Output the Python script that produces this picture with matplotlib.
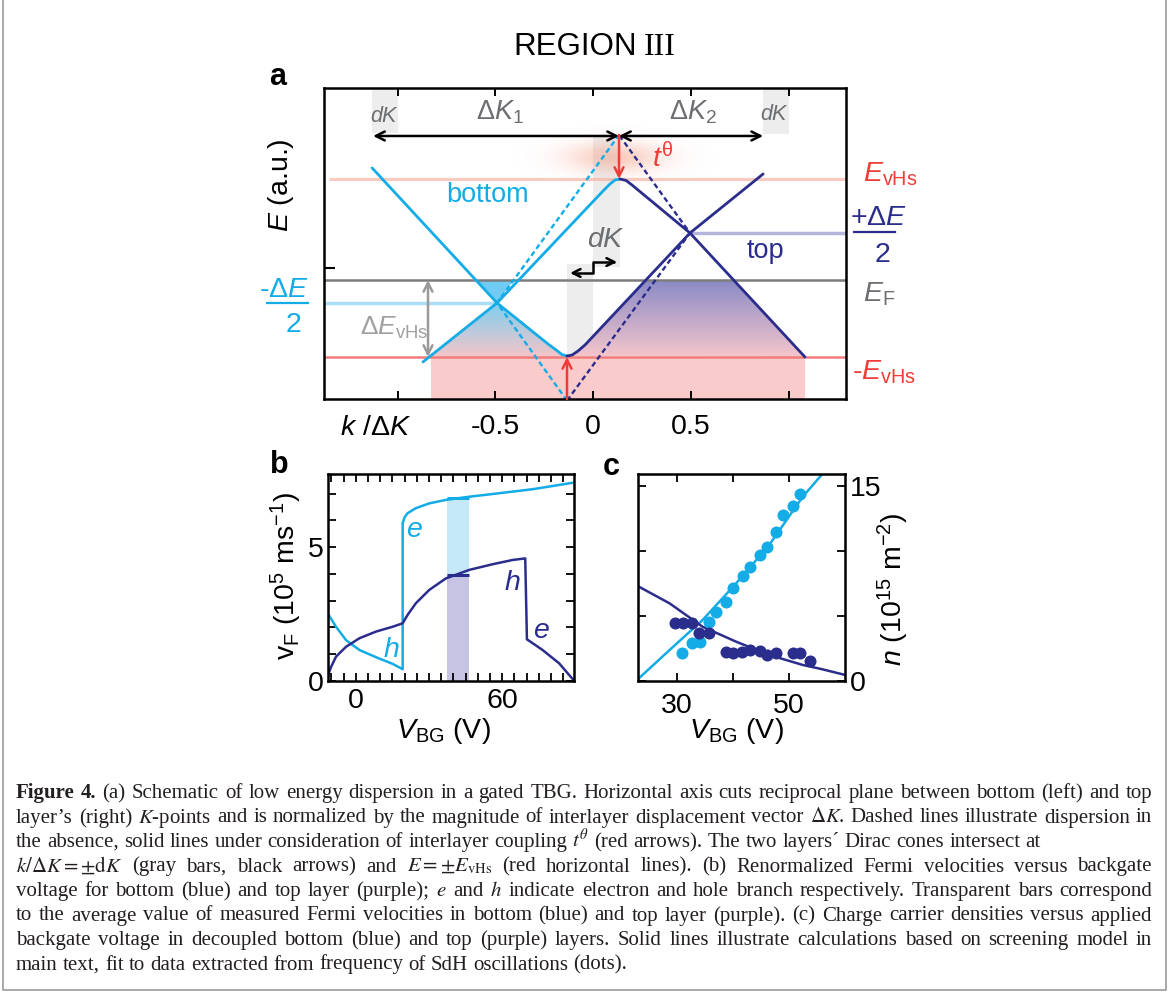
import numpy as np
import matplotlib
matplotlib.use('Agg')
import matplotlib.pyplot as plt
from matplotlib.patches import Polygon, Rectangle, FancyArrowPatch
from matplotlib.path import Path
from matplotlib.colors import to_rgb

plt.rcParams['font.family'] = ['Liberation Sans', 'DejaVu Sans']
plt.rcParams['mathtext.fontset'] = 'custom'
plt.rcParams['mathtext.rm'] = 'Liberation Sans'
plt.rcParams['mathtext.it'] = 'Liberation Sans:italic'
plt.rcParams['mathtext.bf'] = 'Liberation Sans:bold'
plt.rcParams['mathtext.sf'] = 'Liberation Sans'

BLUE = '#13ace6'
NAVY = '#2b2d8c'
RED = '#ee3d38'
GRAY = '#6d6e71'
W, H = 1171, 994

# ---------------- panel a : schematic (k in units of dK, E in units of E_vHs)
E_VHS = 1.0
E_F = -0.135
DE2 = 0.393
K_DIRAC_BOT, K_DIRAC_TOP = -0.491, 0.496

# bottom layer, upper-left branch down to the lower anticrossing
k_bot1 = [-1.130, -0.491, -0.230, -0.189, -0.159, -0.133]
E_bot1 = [1.124, -0.393, -0.854, -0.921, -0.972, -0.989]
# top layer, from the lower anticrossing to the upper-right end
k_top1 = [-0.133, -0.107, -0.077, -0.041, 0.496, 0.870]
E_top1 = [-0.989, -0.978, -0.933, -0.865, 0.393, 1.056]
# bottom layer, lower-left branch up to the upper anticrossing
k_bot2 = [-0.870, -0.491, 0.056, 0.087, 0.113, 0.138]
E_bot2 = [-1.056, -0.393, 0.876, 0.944, 0.989, 1.000]
# top layer, from the upper anticrossing down to the lower-right end
k_top2 = [0.138, 0.169, 0.199, 0.496, 1.084]
E_top2 = [1.000, 0.983, 0.933, 0.393, -1.000]
# uncoupled cones (dashed)
k_bot_dash = [-0.133, -0.491, 0.133]
E_bot_dash = [-1.49, -0.393, 1.494]
k_top_dash = [-0.133, 0.496, 0.133]
E_top_dash = [-1.49, 0.393, 1.494]

# ---------------- panel b : Fermi velocities
V_bot = [-11.5, -8.1, -4.0, 1.5, 8.3, 15.1, 19.2, 19.2, 20.0, 21.2, 24.6, 30.1,
         36.9, 46.5, 56.0, 64.2, 72.4, 80.6, 89.4]
vF_bot = [2.52, 2.02, 1.52, 1.15, 0.88, 0.63, 0.43, 5.90, 6.12, 6.27, 6.46, 6.64,
          6.77, 6.89, 6.99, 7.08, 7.17, 7.29, 7.42]
V_top = [-11.5, -11.2, -10.1, -8.1, -4.0, 1.5, 8.3, 15.1, 19.2, 21.2, 24.6, 30.1,
         36.9, 46.5, 56.0, 64.2, 69.4, 70.1, 76.5, 83.3, 89.4]
vF_top = [0.0, 0.25, 0.52, 0.90, 1.27, 1.59, 1.84, 2.02, 2.15, 2.46, 2.90, 3.40,
          3.83, 4.15, 4.36, 4.52, 4.58, 1.55, 1.15, 0.65, 0.0]
bar_V = (37.2, 46.5)
bar_bot_vF = 6.83
bar_top_vF = 3.96

# ---------------- panel c : carrier densities
Vd_bot = [30.9, 32.7, 34.2, 35.7, 37.0, 38.8, 40.0, 41.8, 43.0, 44.8, 46.1, 47.7, 49.0, 50.7, 52.0]
n_bot = [2.10, 2.92, 3.00, 4.54, 5.30, 6.08, 7.10, 8.05, 8.72, 9.67, 10.26, 11.46, 12.75, 13.44, 14.40]
Vd_top = [29.7, 31.1, 32.7, 33.9, 35.7, 38.7, 40.0, 41.7, 43.1, 44.8, 46.1, 47.7, 50.7, 52.0, 53.8]
n_top = [4.46, 4.41, 4.41, 3.64, 3.69, 2.23, 2.15, 2.23, 2.36, 2.31, 1.98, 2.10, 2.15, 2.15, 1.54]
Vfit = [23.0, 28.7, 34.6, 40.6, 46.5, 52.5, 55.8, 60.1]
nfit_bot = [0.10, 2.36, 4.67, 7.49, 10.44, 14.15, 15.8, np.nan]
nfit_top = [7.28, 5.95, 4.15, 3.00, 1.98, 1.21, 0.90, 0.44]

cap_head = 'Figure 4.'
caption = [
    "(a) Schematic of low energy dispersion in a gated TBG. Horizontal axis cuts reciprocal plane between bottom (left) and top",
    "layer\u2019s (right) $K$-points and is normalized by the magnitude of interlayer displacement vector $\\Delta K$. Dashed lines illustrate dispersion in",
    "the absence, solid lines under consideration of interlayer coupling $t^{\\theta}$ (red arrows). The two layers\u00b4 Dirac cones intersect at",
    "$k/\\Delta K = \\pm\\mathrm{d}K$ (gray bars, black arrows) and $E = \\pm E_{\\mathrm{vHs}}$ (red horizontal lines). (b) Renormalized Fermi velocities versus backgate",
    "voltage for bottom (blue) and top layer (purple); $e$ and $h$ indicate electron and hole branch respectively. Transparent bars correspond",
    "to the average value of measured Fermi velocities in bottom (blue) and top layer (purple). (c) Charge carrier densities versus applied",
    "backgate voltage in decoupled bottom (blue) and top (purple) layers. Solid lines illustrate calculations based on screening model in",
    "main text, fit to data extracted from frequency of SdH oscillations (dots).",
]
justified = [True, True, False, True, True, True, True, False]


def fx(x):
    return x / W


def fy(y):
    return 1 - y / H


def k_at(ks, Es, e):
    ks, Es = np.asarray(ks), np.asarray(Es)
    o = np.argsort(Es)
    return np.interp(e, Es[o], ks[o])


def gradient(ax, verts, c_top, c_bot, e_top, e_bot, z=1.2):
    poly = Polygon(verts, closed=True, fc='none', ec='none')
    ax.add_patch(poly)
    t = np.linspace(0, 1, 120)[:, None]
    rgb = (1 - t) * np.array(to_rgb(c_top)) + t * np.array(to_rgb(c_bot))
    ks = [v[0] for v in verts]
    im = ax.imshow(rgb[:, None, :], extent=[min(ks), max(ks), e_bot, e_top],
                   origin='upper', aspect='auto', interpolation='bilinear', zorder=z)
    im.set_clip_path(poly)


def words(s):
    # split on spaces that are not inside $...$
    out, cur, math = [], '', False
    for ch in s:
        if ch == '$':
            math = not math
        if ch == ' ' and not math:
            if cur:
                out.append(cur)
            cur = ''
        else:
            cur += ch
    if cur:
        out.append(cur)
    return out


fig = plt.figure(figsize=(W / 100, H / 100), dpi=100)

# ================= panel a
ax = fig.add_axes([fx(324), fy(399), fx(522), 311 / H])
kmin, kmax, Emin, Emax = -1.376, 1.294, -1.472, 2.022

# gray bars
for (k0, k1, e0, e1) in [(-1.13, -1.0, 1.517, Emax), (0.870, 1.0, 1.50, Emax),
                         (0.0, 0.138, 0.01, 1.494), (-0.133, 0.0, Emin, 0.05)]:
    ax.add_patch(Rectangle((k0, e0), k1 - k0, e1 - e0, fc='#ededed', ec='none', zorder=0.5))

# red glow around t^theta
kk = np.linspace(-0.45, 0.7, 220)
ee = np.linspace(0.75, 1.75, 160)
KK, EE = np.meshgrid(kk, ee)
rgba = np.zeros(KK.shape + (4,))
rgba[..., :3] = to_rgb('#f59a80')
rgba[..., 3] = 0.5 * np.exp(-0.5 * ((KK - 0.11) / 0.17) ** 2 - 0.5 * ((EE - 1.236) / 0.12) ** 2)
ax.imshow(rgba, extent=[kk[0], kk[-1], ee[0], ee[-1]], origin='lower', aspect='auto', zorder=0.8)

# pink region below -E_vHs
ax.add_patch(Rectangle((-0.829, Emin), 1.084 + 0.829, -E_VHS - Emin, fc='#f9cbcb', ec='none', zorder=0.6))

# filled states
kL = k_at(k_bot2[:2], E_bot2[:2], -E_VHS)
verts = [(K_DIRAC_BOT, -DE2), (kL, -E_VHS), (-0.133, -E_VHS)]
verts += [(k, e) for k, e in zip(k_bot1[::-1], E_bot1[::-1]) if -E_VHS < e < -DE2]
gradient(ax, verts, '#7ccff0', '#f4c5c9', -DE2, -E_VHS)
tri = [(K_DIRAC_BOT, -DE2), (k_at(k_bot1[:2], E_bot1[:2], E_F), E_F),
       (k_at(k_bot_dash[1:], E_bot_dash[1:], E_F), E_F)]
ax.add_patch(Polygon(tri, closed=True, fc='#6fcbf1', ec='none', zorder=1.2))
verts = [(k, e) for k, e in zip(k_top1, E_top1) if e < E_F]
verts += [(k_at(k_top1[3:5], E_top1[3:5], E_F), E_F), (k_at(k_top2[3:], E_top2[3:], E_F), E_F),
          (k_top2[-1], -E_VHS)]
gradient(ax, verts, '#8a8ac6', '#f5c6cc', E_F, -E_VHS)

# horizontal reference lines
ax.hlines(E_VHS, -1.35, kmax, color='#f7a896', lw=2.2, alpha=0.6, zorder=1.5)
ax.hlines(-E_VHS, kmin, kmax, color='#f27c7c', lw=1.8, zorder=1.5)
ax.hlines(E_F, kmin, kmax, color='#7d7d7d', lw=1.8, zorder=1.5)
ax.hlines(-DE2, kmin, K_DIRAC_BOT, color='#a9def6', lw=2.5, zorder=1.5)
ax.hlines(DE2, K_DIRAC_TOP, kmax, color='#b4b4dc', lw=2.5, zorder=1.5)

# dispersions
ax.plot(k_bot_dash, E_bot_dash, color=BLUE, lw=1.7, ls=(0, (2.2, 1.4)), zorder=2)
ax.plot(k_top_dash, E_top_dash, color=NAVY, lw=1.7, ls=(0, (2.2, 1.4)), zorder=2)
ax.plot(k_bot1, E_bot1, color=BLUE, lw=2, zorder=3, solid_capstyle='round')
ax.plot(k_bot2, E_bot2, color=BLUE, lw=2, zorder=3, solid_capstyle='round')
ax.plot(k_top1, E_top1, color=NAVY, lw=2, zorder=3, solid_capstyle='round')
ax.plot(k_top2, E_top2, color=NAVY, lw=2, zorder=3, solid_capstyle='round')

# arrows
black = dict(arrowstyle='<->', color='k', lw=1.8, mutation_scale=16, shrinkA=0, shrinkB=0)
ax.annotate('', xy=(-1.125, 1.483), xytext=(0.133, 1.483), arrowprops=black, zorder=4)
ax.annotate('', xy=(0.133, 1.483), xytext=(0.870, 1.483), arrowprops=black, zorder=4)
red = dict(arrowstyle='->', color=RED, lw=1.8, mutation_scale=16, shrinkA=0, shrinkB=0)
ax.annotate('', xy=(0.133, E_VHS), xytext=(0.133, 1.494), arrowprops=red, zorder=4)
ax.annotate('', xy=(-0.133, -E_VHS), xytext=(-0.133, Emin), arrowprops=red, zorder=4)
ax.annotate('', xy=(-0.844, E_F), xytext=(-0.844, -E_VHS),
            arrowprops=dict(arrowstyle='<->', color='#9a9a9a', lw=1.8, mutation_scale=16,
                            shrinkA=0, shrinkB=0), zorder=4)
step = Path([(-0.118, -0.056), (0.0, -0.056), (0.0, 0.067), (0.123, 0.067)])
ax.add_patch(FancyArrowPatch(path=step, arrowstyle='<->', color='k', lw=1.8,
                             mutation_scale=14, zorder=4))

# texts inside / around panel a
fs = 20.5
ax.text(-0.542, 0.745, 'bottom', color=BLUE, fontsize=19.5, ha='center', va='baseline')
ax.text(0.880, 0.109, 'top', color=NAVY, fontsize=19.5, ha='center', va='baseline')
ax.text(0.064, 0.24, '$d K$', color=GRAY, fontsize=fs, ha='center', va='baseline', zorder=5)
ax.text(-1.064, 1.644, '$dK$', color=GRAY, fontsize=15.5, ha='center', va='baseline')
ax.text(0.931, 1.663, '$dK$', color=GRAY, fontsize=15.5, ha='center', va='baseline')
ax.text(-0.476, 1.663, r'$\Delta K_{\mathrm{1}}$', color=GRAY, fontsize=19.5, ha='center', va='baseline')
ax.text(0.513, 1.663, r'$\Delta K_{\mathrm{2}}$', color=GRAY, fontsize=19.5, ha='center', va='baseline')
ax.text(0.300, 1.138, r'$t^{\mathrm{\theta}}$', color=RED, fontsize=fs, ha='left', va='baseline')
ax.text(-1.192, -0.753, r'$\Delta E_{\mathrm{vHs}}$', color='#a0a0a0', fontsize=19, ha='left', va='baseline')

ax.text(1.381, 0.970, r'$E_{\mathrm{vHs}}$', color=RED, fontsize=fs, ha='left', va='baseline', clip_on=False)
ax.text(1.458, 0.483, r'+$\Delta E$', color=NAVY, fontsize=fs, ha='center', va='baseline', clip_on=False)
ax.plot([1.333, 1.547], [0.404, 0.404], color=NAVY, lw=1.6, clip_on=False)
ax.text(1.481, 0.071, '2', color=NAVY, fontsize=fs, ha='center', va='baseline', clip_on=False)
ax.text(1.381, -0.378, r'$E_{\mathrm{F}}$', color=GRAY, fontsize=fs, ha='left', va='baseline', clip_on=False)
ax.text(1.323, -1.258, r'-$E_{\mathrm{vHs}}$', color=RED, fontsize=fs, ha='left', va='baseline', clip_on=False)
ax.text(-1.581, -0.322, r'-$\Delta E$', color=BLUE, fontsize=fs, ha='center', va='baseline', clip_on=False)
ax.plot([-1.669, -1.456], [-0.390, -0.390], color=BLUE, lw=1.6, clip_on=False)
ax.text(-1.533, -0.716, '2', color=BLUE, fontsize=fs, ha='center', va='baseline', clip_on=False)
ax.text(-1.596, 0.933, r'$E$ (a.u.)', fontsize=fs, rotation=90, ha='center', va='center', clip_on=False)
ax.text(-1.292, -1.876, r'$k$ /$\Delta K$', fontsize=fs, ha='left', va='baseline', clip_on=False)

ax.set_xlim(kmin, kmax)
ax.set_ylim(Emin, Emax)
ax.set_xticks([-1, -0.5, 0, 0.5, 1])
ax.set_xticklabels(['', '-0.5', '0', '0.5', ''])
ax.set_yticks([0])
ax.tick_params(axis='x', direction='in', top=True, length=6, width=1.4, labelsize=fs, pad=11)
ax.tick_params(axis='y', direction='in', length=8, width=1.5, labelleft=False)
for s in ax.spines.values():
    s.set_linewidth(1.8)

# ================= panel b
axb = fig.add_axes([fx(327.7), fy(680.7), fx(246.6), 206.7 / H])
axb.axvspan(bar_V[0], bar_V[1], ymin=bar_top_vF / 7.74, ymax=bar_bot_vF / 7.74, color='#c6e9f9', lw=0)
axb.axvspan(bar_V[0], bar_V[1], ymin=0, ymax=bar_top_vF / 7.74, color='#c6c4e2', lw=0)
axb.hlines(bar_bot_vF, bar_V[0], bar_V[1], color=BLUE, lw=2.2)
axb.hlines(bar_top_vF, bar_V[0], bar_V[1], color=NAVY, lw=2.2)
axb.plot(V_bot, vF_bot, color=BLUE, lw=1.8)
axb.plot(V_top, vF_top, color=NAVY, lw=1.8)
axb.text(23.9, 5.64, '$e$', color=BLUE, fontsize=fs, ha='center', va='center')
axb.text(14.4, 1.15, '$h$', color=BLUE, fontsize=fs, ha='center', va='center')
axb.text(64.2, 3.67, '$h$', color=NAVY, fontsize=fs, ha='center', va='center')
axb.text(76.0, 1.87, '$e$', color=NAVY, fontsize=fs, ha='center', va='center')
axb.set_xlim(-11.5, 89.5)
axb.set_ylim(0, 7.74)
axb.set_xticks(np.arange(-10, 90, 5))
axb.set_xticklabels(['0' if v == 0 else '60' if v == 60 else '' for v in np.arange(-10, 90, 5)])
axb.set_yticks(range(8))
axb.set_yticklabels(['0', '', '', '', '', '5', '', ''])
axb.tick_params(direction='in', top=True, right=True, length=5.5, width=1.3, labelsize=fs, pad=3)
axb.tick_params(axis='x', pad=5)
for s in axb.spines.values():
    s.set_linewidth(1.8)
axb.text(-0.166, 0.507, r'v$_{\mathrm{F}}$ (10$^{5}$ ms$^{\mathrm{-1}}$)', transform=axb.transAxes,
         fontsize=fs, rotation=90, ha='center', va='center')
axb.text(0.469, -0.279, r'$V_{\mathrm{BG}}$ (V)', transform=axb.transAxes, fontsize=fs,
         ha='center', va='baseline')

# ================= panel c
axc = fig.add_axes([fx(637.7), fy(680.7), fx(207.6), 206.7 / H])
axc.plot(Vfit, nfit_bot, color=BLUE, lw=1.8)
axc.plot(Vfit, nfit_top, color=NAVY, lw=1.8)
axc.scatter(Vd_bot, n_bot, s=75, color=BLUE, lw=0, zorder=3)
axc.scatter(Vd_top, n_top, s=75, color=NAVY, lw=0, zorder=3)
axc.set_xlim(23.0, 60.1)
axc.set_ylim(0, 15.9)
axc.set_xticks([30, 40, 50])
axc.set_xticklabels(['30', '', '50'])
axc.set_yticks([0, 5, 10, 15])
axc.set_yticklabels(['0', '', '', '15'])
axc.tick_params(direction='in', top=True, right=True, left=True, labelleft=False, labelright=True,
                length=5.5, width=1.3, labelsize=fs, pad=3)
axc.tick_params(axis='x', pad=9)
for s in axc.spines.values():
    s.set_linewidth(1.8)
axc.text(1.232, 0.44, r'$n$ (10$^{15}$ m$^{\mathrm{-2}}$)', transform=axc.transAxes, fontsize=fs,
         rotation=90, ha='center', va='center')
axc.text(0.477, -0.279, r'$V_{\mathrm{BG}}$ (V)', transform=axc.transAxes, fontsize=fs,
         ha='center', va='baseline')

# ================= titles / panel letters
fig.text(fx(512.9), fy(55), 'REGION', fontsize=22.5, ha='left', va='baseline')
fig.text(fx(644), fy(55), 'III', fontsize=23, family='Liberation Serif', ha='left', va='baseline')
fig.text(fx(269), fy(85), 'a', fontsize=22, weight='bold', ha='left', va='baseline')
fig.text(fx(270), fy(473), 'b', fontsize=22, weight='bold', ha='left', va='baseline')
fig.text(fx(603), fy(475), 'c', fontsize=22, weight='bold', ha='left', va='baseline')

# ================= caption, justified by spreading the words over the column
cap_x0, cap_x1, cap_y0, cap_dy, cap_fs = 16, 1152, 798, 24.5, 15.0
cap_kw = dict(family='Liberation Serif', fontsize=cap_fs, color='#231f20', va='baseline',
              math_fontfamily='stix')
renderer = fig.canvas.get_renderer()
probe = fig.text(0, 0, 'x x', **cap_kw)
space = probe.get_window_extent(renderer).width
probe.set_text('xx')
space -= probe.get_window_extent(renderer).width
probe.remove()
for i, line in enumerate(caption):
    y = fy(cap_y0 + cap_dy * i)
    items = [(w, 'normal') for w in words(line)]
    if i == 0:
        items = [(w, 'bold') for w in words(cap_head)] + items
    texts = [fig.text(0, y, w, weight=wt, **cap_kw) for w, wt in items]
    widths = [t.get_window_extent(renderer).width for t in texts]
    gap = (cap_x1 - cap_x0 - sum(widths)) / (len(texts) - 1) if justified[i] else space
    x = cap_x0
    for t, w in zip(texts, widths):
        t.set_x(fx(x))
        x += w + gap

# frame around the figure + caption
fig.add_artist(plt.Line2D([fx(3), fx(3), fx(1166), fx(1166)], [fy(0), fy(990), fy(990), fy(0)],
                          color='#9a9a9a', lw=1.2))

fig.savefig('out.png', dpi=100)
